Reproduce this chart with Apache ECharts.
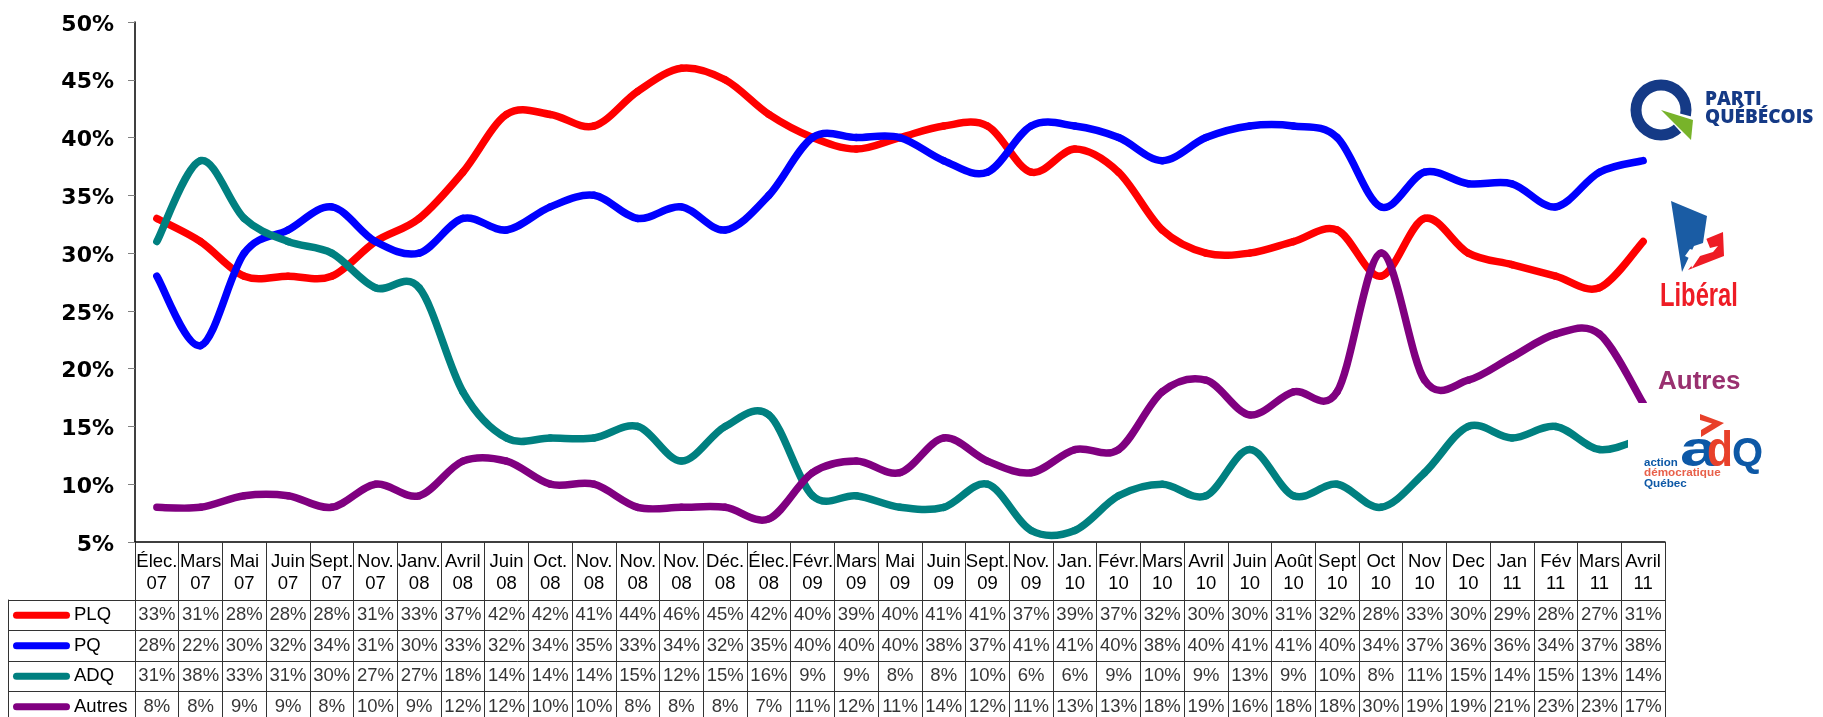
<!DOCTYPE html>
<html lang="en">

<head>
  <meta charset="UTF-8">
  <title>Intentions de vote Québec 2007-2011</title>
  <script src="https://cdn.jsdelivr.net/npm/echarts@6/dist/echarts.min.js"></script>
  <style>
    * {
      margin: 0;
      padding: 0;
      box-sizing: border-box;
    }

    html,
    body {
      background: #fff;
      overflow: hidden;
    }

    #chart {
      width: 1823px;
      height: 717px;
    }
  </style>
</head>

<body>
  <div id="chart"></div>

  <script>
    const categories = [
      'Élec.\n07', 'Mars\n07', 'Mai\n07', 'Juin\n07', 'Sept.\n07', 'Nov.\n07', 'Janv.\n08',
      'Avril\n08', 'Juin\n08', 'Oct.\n08', 'Nov.\n08', 'Nov.\n08', 'Nov.\n08', 'Déc.\n08',
      'Élec.\n08', 'Févr.\n09', 'Mars\n09', 'Mai\n09', 'Juin\n09', 'Sept.\n09', 'Nov.\n09',
      'Jan.\n10', 'Févr.\n10', 'Mars\n10', 'Avril\n10', 'Juin\n10', 'Août\n10', 'Sept\n10',
      'Oct\n10', 'Nov\n10', 'Dec\n10', 'Jan\n11', 'Fév\n11', 'Mars\n11', 'Avril\n11'
    ];
    const plq = [33, 31, 28, 28, 28, 31, 33, 37, 42, 42, 41, 44, 46, 45, 42, 40, 39, 40, 41, 41, 37, 39, 37, 32, 30, 30, 31, 32, 28, 33, 30, 29, 28, 27, 31];
    const pq = [28, 22, 30, 32, 34, 31, 30, 33, 32, 34, 35, 33, 34, 32, 35, 40, 40, 40, 38, 37, 41, 41, 40, 38, 40, 41, 41, 40, 34, 37, 36, 36, 34, 37, 38];
    const adq = [31, 38, 33, 31, 30, 27, 27, 18, 14, 14, 14, 15, 12, 15, 16, 9, 9, 8, 8, 10, 6, 6, 9, 10, 9, 13, 9, 10, 8, 11, 15, 14, 15, 13, 14];
    const autres = [8, 8, 9, 9, 8, 10, 9, 12, 12, 10, 10, 8, 8, 8, 7, 11, 12, 11, 14, 12, 11, 13, 13, 18, 19, 16, 18, 18, 30, 19, 19, 21, 23, 23, 17];

    const rows = ['PLQ', 'PQ', 'ADQ', 'Autres'];
    const rowValues = [plq, pq, adq, autres];
    const rowColors = ['#ff0000', '#0000ff', '#008080', '#800080'];

    const tableFont = '"Liberation Sans", Arial, sans-serif';
    const cellLine = { color: '#333', width: 1 };

    // lissage façon Excel (catmull-rom) : ça dépasse un peu aux sommets, le smooth natif coupe à plat
    function smoothSegment(values, color) {
      return function (params, api) {
        const i = params.dataIndex;
        if (i >= values.length - 1) return null;
        const p = (k) => api.coord([Math.max(0, Math.min(values.length - 1, k)), values[Math.max(0, Math.min(values.length - 1, k))]]);
        const p0 = p(i - 1), p1 = p(i), p2 = p(i + 1), p3 = p(i + 2);
        return {
          type: 'bezierCurve',
          shape: {
            x1: p1[0],
            y1: p1[1],
            x2: p2[0],
            y2: p2[1],
            cpx1: p1[0] + (p2[0] - p0[0]) / 6,
            cpy1: p1[1] + (p2[1] - p0[1]) / 6,
            cpx2: p2[0] - (p3[0] - p1[0]) / 6,
            cpy2: p2[1] - (p3[1] - p1[1]) / 6
          },
          style: { fill: 'none', stroke: color, lineWidth: 7.5, lineCap: 'round' }
        };
      };
    }

    const lineSeries = rows.map((name, i) => ({
      name,
      type: 'custom',
      coordinateSystem: 'cartesian2d',
      data: rowValues[i].map((v, c) => [c, v]),
      encode: { x: 0, y: 1 },
      renderItem: smoothSegment(rowValues[i], rowColors[i]),
      clip: false,
      silent: true,
      z: 2 + i
    }));

    // les chiffres du tableau : un scatter invisible par ligne, juste pour les labels
    const tableSeries = rows.map((name, r) => ({
      name: name + ' table',
      type: 'scatter',
      xAxisIndex: 1,
      yAxisIndex: 1,
      symbolSize: 0,
      silent: true,
      data: rowValues[r].map((v, c) => [c, r, v]),
      label: {
        show: true,
        position: 'inside',
        fontFamily: tableFont,
        fontSize: 18.5,
        color: '#000',
        formatter: (p) => p.value[2] + '%'
      }
    }));

    const keyRich = { t: { fontFamily: tableFont, fontSize: 18.5, color: '#000', padding: [0, 0, 0, 4] } };
    rowColors.forEach((c, i) => {
      keyRich['s' + i] = { width: 57, height: 7, backgroundColor: c, borderRadius: 3.5 };
    });

    // logos à droite
    const pqBlue = '#153a86';
    const logos = [
      { type: 'ring', z: 100, shape: { cx: 1661, cy: 110, r: 30.5, r0: 19.5 }, style: { fill: pqBlue } },
      { type: 'polygon', z: 101, shape: { points: [[1659, 108], [1697, 118], [1694, 147]] }, style: { fill: '#fff' } },
      { type: 'polygon', z: 102, shape: { points: [[1661, 110], [1693, 120], [1691, 140]] }, style: { fill: '#78b32a' } },
      { type: 'text', z: 102, x: 1705, y: 90, style: { text: 'PARTI', fill: pqBlue, font: '800 19px "Open Sans", sans-serif' } },
      { type: 'text', z: 102, x: 1705, y: 108, style: { text: 'QUÉBÉCOIS', fill: pqBlue, font: '800 19px "Open Sans", sans-serif' } },

      { type: 'polygon', z: 100, shape: { points: [[1671, 201], [1707, 216], [1703, 243], [1694, 246], [1682, 272]] }, style: { fill: '#1a5ca4' } },
      { type: 'polygon', z: 100, shape: { points: [[1723, 232], [1724, 256], [1688, 270], [1699, 257], [1706, 239]] }, style: { fill: '#ee1c25' } },
      { type: 'polygon', z: 101, shape: { points: [[1706, 238], [1710, 248], [1718, 246], [1713, 252], [1700, 256], [1692, 268], [1689, 258], [1685, 256], [1690, 249], [1696, 251], [1702, 246]] }, style: { fill: '#fff' } },
      { type: 'text', z: 102, x: 1660, y: 280, scaleX: 0.72, style: { text: 'Libéral', fill: '#ee1c25', font: 'bold 33px "Liberation Sans", sans-serif' } },

      { type: 'text', z: 102, x: 1658, y: 369, style: { text: 'Autres', fill: '#99306f', font: 'bold 26px "Liberation Sans", sans-serif' } },

      // fond blanc du logo ADQ, il coupe les courbes
      { type: 'rect', z: 100, shape: { x: 1628, y: 403, width: 160, height: 95 }, style: { fill: '#fff' } },
      { type: 'polygon', z: 102, shape: { points: [[1700, 414], [1724, 423], [1701, 437], [1701, 430], [1712, 423.5], [1700, 420]] }, style: { fill: '#e8402a' } },
      { type: 'text', z: 102, x: 1680, y: 427, scaleX: 1.35, style: { text: 'a', fill: '#0d58a6', font: 'bold 50px "Liberation Sans", sans-serif' } },
      { type: 'text', z: 103, x: 1707, y: 427, scaleX: 0.85, style: { text: 'd', fill: '#e8402a', font: 'bold 50px "Liberation Sans", sans-serif' } },
      { type: 'text', z: 102, x: 1732, y: 435, style: { text: 'Q', fill: '#0d58a6', font: 'bold 40px "Liberation Sans", sans-serif' } },
      { type: 'text', z: 102, x: 1644, y: 457, style: { text: 'action', fill: '#0d58a6', font: 'bold 11.5px "Liberation Sans", sans-serif' } },
      { type: 'text', z: 102, x: 1644, y: 467, style: { text: 'démocratique', fill: '#e8604a', font: 'bold 11.7px "Liberation Sans", sans-serif' } },
      { type: 'text', z: 102, x: 1644, y: 478, style: { text: 'Québec', fill: '#0d58a6', font: 'bold 11.7px "Liberation Sans", sans-serif' } }
    ];

    const option = {
      backgroundColor: '#fff',
      animation: false,
      grid: [
        { left: 135, top: 22, width: 1530, height: 520, outerBoundsMode: 'none' },
        { left: 135, top: 600, width: 1530, height: 122, outerBoundsMode: 'none' }
      ],
      xAxis: [
        {
          type: 'category',
          data: categories,
          axisLine: { lineStyle: { color: '#000', width: 1.5 } },
          axisTick: { show: true, length: 58, interval: 0, lineStyle: cellLine },
          axisLabel: { interval: 0, margin: 9, fontFamily: tableFont, fontSize: 18.5, lineHeight: 22, color: '#000' },
          splitLine: { show: false }
        },
        {
          type: 'category',
          gridIndex: 1,
          data: categories,
          axisLine: { show: false },
          axisTick: { show: false },
          axisLabel: { show: false },
          splitLine: { show: true, interval: 0, lineStyle: cellLine }
        }
      ],
      yAxis: [
        {
          type: 'value',
          min: 5,
          max: 50,
          interval: 5,
          axisLine: { show: true, lineStyle: { color: '#000', width: 1.5 } },
          axisTick: { show: true, length: 7, lineStyle: { color: '#808080', width: 1 } },
          axisLabel: {
            formatter: '{v|{value}%}',
            margin: 21,
            rich: {
              v: {
                padding: [6, 0, 0, 0],
                fontFamily: '"DejaVu Sans", sans-serif',
                fontWeight: 'bold',
                fontSize: 22,
                color: '#000'
              }
            }
          },
          splitLine: { show: false }
        },
        {
          type: 'category',
          gridIndex: 1,
          inverse: true,
          data: rows,
          axisLine: { show: true, lineStyle: cellLine },
          axisTick: { show: true, length: 127, interval: 0, lineStyle: cellLine },
          axisLabel: {
            interval: 0,
            margin: 122,
            align: 'left',
            formatter: (v, i) => `{s${i}|}{t|${v}}`,
            rich: keyRich
          },
          splitLine: { show: true, interval: 0, lineStyle: cellLine }
        },
        {
          // bord gauche de la colonne légende
          type: 'category',
          gridIndex: 1,
          position: 'left',
          offset: 127,
          inverse: true,
          data: rows,
          axisLine: { show: true, lineStyle: cellLine },
          axisTick: { show: false },
          axisLabel: { show: false },
          splitLine: { show: false }
        }
      ],
      series: [...lineSeries, ...tableSeries],
      graphic: logos
    };

    const myChart = echarts.init(document.getElementById('chart'), null, { renderer: 'canvas' });
    myChart.setOption(option);
  </script>
</body>

</html>
